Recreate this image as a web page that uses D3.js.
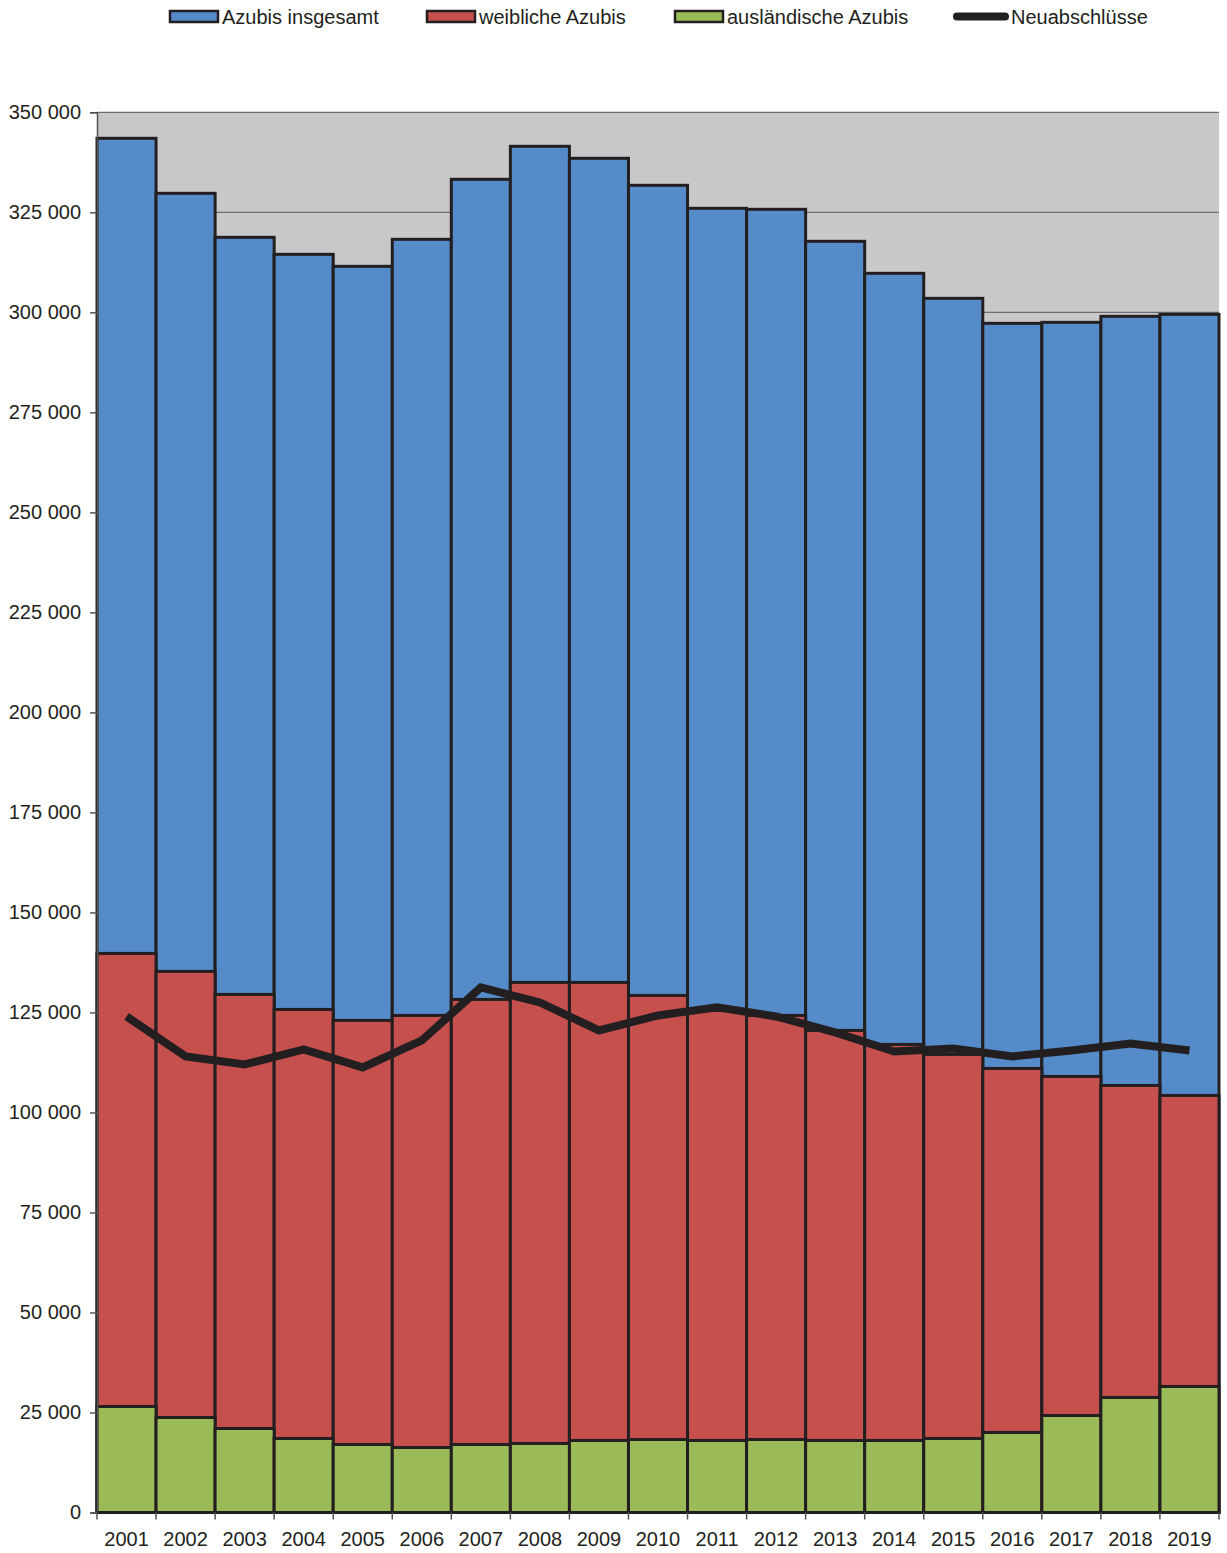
<!DOCTYPE html>
<html><head><meta charset="utf-8">
<script src="https://cdn.jsdelivr.net/npm/d3@7"></script>
<style>body{margin:0;background:#fff}svg{display:block;font-family:"Liberation Sans",Arial,sans-serif}</style>
</head><body><svg id="c" width="1227" height="1553"></svg>
<script>
const years=["2001","2002","2003","2004","2005","2006","2007","2008","2009","2010","2011","2012","2013","2014","2015","2016","2017","2018","2019"];
const azubisInsgesamt=[343500,329750,318750,314500,311500,318250,333250,341500,338500,331750,326000,325750,317750,309750,303500,297250,297500,299000,299500];
const weiblicheAzubis=[139750,135250,129500,125750,123000,124250,128250,132500,132500,129250,125500,124250,120500,117000,114500,111000,109000,106750,104250];
const auslaendischeAzubis=[26500,23750,21000,18500,17000,16250,17000,17250,18000,18250,18000,18250,18000,18000,18500,20000,24250,28750,31500];
const neuabschluesse=[124000,114000,112000,115750,111250,118000,131250,127500,120500,124250,126300,124000,120000,115250,116000,114000,115500,117250,115500];
const yTicks=[0,25000,50000,75000,100000,125000,150000,175000,200000,225000,250000,275000,300000,325000,350000];
const legendLabels=["Azubis insgesamt","weibliche Azubis","ausländische Azubis","Neuabschlüsse"];

const svg=d3.select("#c");
const L=97,R=1219,T=112.3,B=1512.5;
const x=d3.scaleBand().domain(years).range([L,R]).padding(0);
const y=d3.scaleLinear().domain([0,350000]).range([B,T]);
const fmt=v=>d3.format(",")(v).replace(/,/g," ");
const dark="#231f20";

svg.append("rect").attr("x",L).attr("y",T).attr("width",R-L).attr("height",B-T).attr("fill","#c8c8ca");
svg.append("g").selectAll("line").data(yTicks.filter(d=>d>0)).join("line")
 .attr("x1",L).attr("x2",R).attr("y1",d=>y(d)).attr("y2",d=>y(d)).attr("stroke","#6e6e70").attr("stroke-width",1.2);

const series=[
 {vals:azubisInsgesamt,color:"#558bc8"},
 {vals:weiblicheAzubis,color:"#c5504e"},
 {vals:auslaendischeAzubis,color:"#9bbb59"}];
series.forEach(s=>{
 svg.append("g").selectAll("rect").data(years).join("rect")
  .attr("x",d=>x(d)).attr("width",x.bandwidth())
  .attr("y",(d,i)=>y(s.vals[i])).attr("height",(d,i)=>B-y(s.vals[i]))
  .attr("fill",s.color).attr("stroke",dark).attr("stroke-width",3);
});

// line
const line=d3.line().x((d,i)=>x(years[i])+x.bandwidth()/2).y(d=>y(d));
svg.append("path").datum(neuabschluesse).attr("d",line).attr("fill","none").attr("stroke",dark).attr("stroke-width",8).attr("stroke-linejoin","miter");

// axes
const yAxis=d3.axisLeft(y).tickValues(yTicks).tickFormat(fmt).tickSize(7).tickPadding(9);
const gy=svg.append("g").attr("transform",`translate(${L},0)`).call(yAxis);
gy.select(".domain").attr("stroke","#555").attr("stroke-width",1.5);
gy.selectAll(".tick line").attr("stroke","#555").attr("stroke-width",1.5);
gy.selectAll("text").attr("font-size",20).attr("fill","#231f20").attr("font-family","Liberation Sans, Arial, sans-serif");

const gx=svg.append("g").attr("transform",`translate(0,${B})`);
gx.append("line").attr("x1",L).attr("x2",R).attr("stroke",dark).attr("stroke-width",2);
const bounds=years.map(d=>x(d)).concat([R]);
gx.selectAll("line.t").data(bounds).join("line").attr("class","t")
 .attr("x1",d=>d).attr("x2",d=>d).attr("y1",0).attr("y2",7).attr("stroke","#555").attr("stroke-width",1.5);
gx.selectAll("text").data(years).join("text")
 .attr("x",d=>x(d)+x.bandwidth()/2).attr("y",33).attr("text-anchor","middle")
 .attr("font-size",20).attr("fill",dark).text(d=>d);

// legend
const lg=svg.append("g");
const lx=[170,427,675,955];
const colors=["#558bc8","#c5504e","#9bbb59",null];
legendLabels.forEach((t,i)=>{
 if(colors[i]){
  lg.append("rect").attr("x",lx[i]).attr("y",11).attr("width",48).attr("height",11).attr("fill",colors[i]).attr("stroke",dark).attr("stroke-width",2.5);
  lg.append("text").attr("x",lx[i]+52).attr("y",23.5).attr("font-size",20).attr("fill",dark).text(t);
 } else {
  lg.append("line").attr("x1",lx[i]+2).attr("x2",lx[i]+50).attr("y1",16.5).attr("y2",16.5).attr("stroke",dark).attr("stroke-width",8).attr("stroke-linecap","round");
  lg.append("text").attr("x",lx[i]+56).attr("y",23.5).attr("font-size",20).attr("fill",dark).text(t);
 }
});
</script></body></html>
